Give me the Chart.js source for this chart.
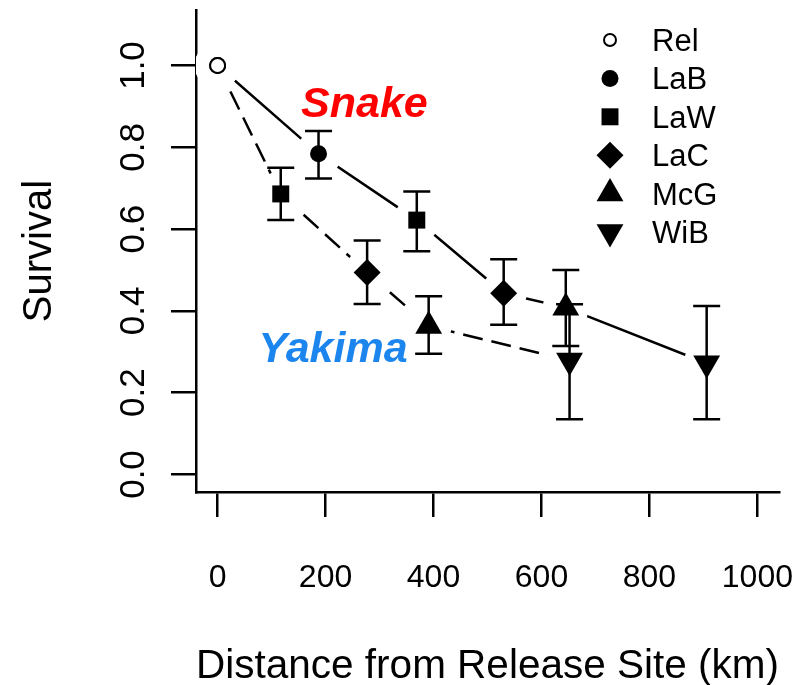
<!DOCTYPE html>
<html>
<head>
<meta charset="utf-8">
<script src="https://cdn.jsdelivr.net/npm/chart.js@4.4.0/dist/chart.umd.min.js"></script>
<style>
  html, body { margin: 0; padding: 0; background: #fff; }
  #wrap { width: 808px; height: 685px; position: relative; }
</style>
</head>
<body>
<div id="wrap"><canvas id="chart1"></canvas></div>
<script>
// Snake route: release site, then detection sites downstream
const snakeSites = ['Rel', 'LaB', 'LaW', 'LaC', 'McG', 'WiB'];
const snakeKm = [0, 187, 369, 530, 645, 906];
const snakeSurv = [1.0, 0.784, 0.622, 0.443, 0.408, 0.272];
const snakeLo = [null, 0.724, 0.546, 0.366, 0.314, 0.135];
const snakeHi = [null, 0.840, 0.692, 0.526, 0.500, 0.412];

// Yakima route
const yakimaSites = ['Rel', 'LaW', 'LaC', 'McG', 'WiB'];
const yakimaKm = [0, 117, 277, 391, 652];
const yakimaSurv = [1.0, 0.686, 0.494, 0.363, 0.279];
const yakimaLo = [null, 0.622, 0.417, 0.295, 0.135];
const yakimaHi = [null, 0.750, 0.572, 0.436, 0.416];

const legendSites = ['Rel', 'LaB', 'LaW', 'LaC', 'McG', 'WiB'];
const xTicks = [0, 200, 400, 600, 800, 1000];
const yTicks = [0, 0.2, 0.4, 0.6, 0.8, 1.0];

const FONT = '"Liberation Sans", Arial, Helvetica, sans-serif';
Chart.defaults.font.family = FONT;

// marker for each site
const siteStyle = {
    Rel: { pointStyle: 'circle', radius: 7.5, rotation: 0, open: true },
    LaB: { pointStyle: 'circle', radius: 8.5, rotation: 0 },
    LaW: { pointStyle: 'rect', radius: 12, rotation: 0 },
    LaC: { pointStyle: 'rectRot', radius: 13.5, rotation: 0 },
    McG: { pointStyle: 'triangle', radius: 15.5, rotation: 0 },
    WiB: { pointStyle: 'triangle', radius: 15.5, rotation: 180 }
};

function toPoints(xs, ys) {
    return xs.map((x, i) => ({ x: x, y: ys[i] }));
}

function markerDataset(label, sites, xs, ys) {
    return {
        label: label,
        data: toPoints(xs, ys),
        showLine: false,
        order: 0,
        pointStyle: sites.map(s => siteStyle[s].pointStyle),
        pointRadius: sites.map(s => siteStyle[s].radius),
        pointRotation: sites.map(s => siteStyle[s].rotation),
        pointBackgroundColor: sites.map(s => siteStyle[s].open ? '#fff' : '#000'),
        pointBorderColor: '#000',
        pointBorderWidth: sites.map(s => siteStyle[s].open ? 2 : 0)
    };
}

function lineDataset(label, xs, ys, dash) {
    return {
        label: label,
        data: toPoints(xs, ys),
        showLine: true,
        order: 2,
        borderColor: '#000',
        borderWidth: 2.5,
        borderDash: dash,
        pointRadius: 0,
        tension: 0
    };
}

// white discs around the points give the gaps of an R type="b" line
const haloDataset = {
    label: 'halo',
    data: toPoints(snakeKm, snakeSurv).concat(toPoints(yakimaKm, yakimaSurv)),
    showLine: false,
    order: 1,
    pointRadius: 23,
    pointBackgroundColor: '#fff',
    pointBorderWidth: 0
};

const errorBars = {
    id: 'errorBars',
    afterDatasetDraw(chart, args) {
        if (args.index !== 2) return;   // right after the halos
        const ctx = chart.ctx;
        const xs = chart.scales.x, ys = chart.scales.y;
        const groups = [[snakeKm, snakeLo, snakeHi], [yakimaKm, yakimaLo, yakimaHi]];
        ctx.save();
        ctx.strokeStyle = '#000';
        ctx.lineWidth = 2.5;
        groups.forEach(([km, lo, hi]) => {
            km.forEach((k, i) => {
                if (lo[i] === null) return;
                const px = xs.getPixelForValue(k);
                const p1 = ys.getPixelForValue(lo[i]);
                const p2 = ys.getPixelForValue(hi[i]);
                ctx.beginPath();
                ctx.moveTo(px, p1); ctx.lineTo(px, p2);
                ctx.moveTo(px - 13.5, p1); ctx.lineTo(px + 13.5, p1);
                ctx.moveTo(px - 13.5, p2); ctx.lineTo(px + 13.5, p2);
                ctx.stroke();
            });
        });
        ctx.restore();
    }
};

const labelsAndLegend = {
    id: 'labelsAndLegend',
    afterDraw(chart) {
        const ctx = chart.ctx;
        const xs = chart.scales.x, ys = chart.scales.y;
        ctx.save();
        // route names
        ctx.textAlign = 'center';
        ctx.textBaseline = 'alphabetic';
        ctx.font = 'italic bold 43px ' + FONT;
        ctx.fillStyle = '#ff0000';
        ctx.fillText('Snake', xs.getPixelForValue(272), ys.getPixelForValue(0.874));
        ctx.fillStyle = '#1c86ee';
        ctx.fillText('Yakima', xs.getPixelForValue(214), ys.getPixelForValue(0.276));

        // legend
        ctx.textAlign = 'left';
        ctx.font = '31px ' + FONT;
        legendSites.forEach((s, i) => {
            const st = siteStyle[s];
            const y = 40 + i * 38.4;
            ctx.fillStyle = st.open ? '#fff' : '#000';
            ctx.strokeStyle = '#000';
            ctx.lineWidth = 2;
            Chart.helpers.drawPoint(ctx, {
                pointStyle: st.pointStyle,
                radius: st.open ? 6 : st.radius,
                rotation: st.rotation,
                borderWidth: st.open ? 2 : 0
            }, 610, y);
            ctx.fillStyle = '#000';
            ctx.fillText(s, 652, y + 11);
        });
        ctx.restore();
    }
};

function noPad(s) {
    s.paddingLeft = 0; s.paddingRight = 0; s.paddingTop = 0; s.paddingBottom = 0;
}

const axisGrid = { drawOnChartArea: false, color: '#000', lineWidth: 2.5, tickLength: 25, tickWidth: 2.5 };

new Chart(document.getElementById('chart1').getContext('2d'), {
    type: 'scatter',
    data: {
        datasets: [
            markerDataset('Snake', snakeSites, snakeKm, snakeSurv),
            markerDataset('Yakima', yakimaSites, yakimaKm, yakimaSurv),
            haloDataset,
            lineDataset('Snake line', snakeKm, snakeSurv, []),
            lineDataset('Yakima line', yakimaKm, yakimaSurv, [20, 9])
        ]
    },
    options: {
        responsive: true,
        maintainAspectRatio: false,
        animation: false,
        events: [],
        layout: { autoPadding: false, padding: { top: 10, right: 29, left: 0, bottom: 0 } },
        plugins: { legend: { display: false }, tooltip: { enabled: false } },
        scales: {
            x: {
                type: 'linear', min: -40, max: 1040, z: 1,
                afterBuildTicks: s => { s.ticks = xTicks.map(v => ({ value: v })); },
                afterFit: s => { s.height = 193; noPad(s); },
                grid: axisGrid,
                border: { color: '#000', width: 2.5 },
                ticks: { color: '#000', font: { size: 32 }, padding: 42, maxRotation: 0, autoSkip: false,
                         callback: v => String(v) },
                title: { display: true, text: 'Distance from Release Site (km)', color: '#000',
                         font: { size: 40.5, lineHeight: 1 }, padding: { bottom: -2 } }
            },
            y: {
                type: 'linear', min: -0.0428, max: 1.1357, z: 1,
                afterBuildTicks: s => { s.ticks = yTicks.map(v => ({ value: v })); },
                afterFit: s => { s.width = 196; noPad(s); },
                grid: axisGrid,
                border: { color: '#000', width: 2.5 },
                ticks: { color: '#000', font: { size: 35 }, padding: 12, minRotation: 90, maxRotation: 90,
                         crossAlign: 'center', autoSkip: false, callback: v => v.toFixed(1) },
                title: { display: true, text: 'Survival', color: '#000',
                         font: { size: 40, lineHeight: 1 }, padding: { top: 20 } }
            }
        }
    },
    plugins: [errorBars, labelsAndLegend]
});
</script>
</body>
</html>
